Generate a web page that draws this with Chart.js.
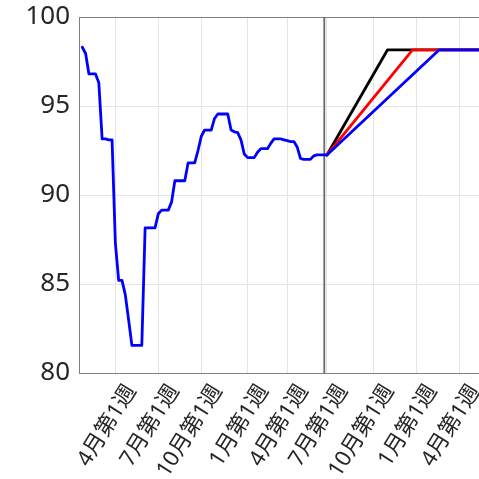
<!DOCTYPE html>
<html lang="ja">
<head>
    <meta charset="UTF-8">
    <title>週次推移と見通し</title>
    <style>
        body{
            margin: 0;
            background: #fff;
            overflow: hidden;
        }
        #wrap{
            width: 479px;
            height: 479px;
        }
    </style>
</head>
<body>
<div id="wrap"><canvas id="chart"></canvas></div>
<script src="https://cdn.jsdelivr.net/npm/chart.js"></script>
<script>
    // weekly history, week 0 = first "4月第1週"
    const firstWeek = -10;
    const historyValues = [
        98.3, 97.95, 96.8, 96.8, 96.8, 96.3, 93.15, 93.15, 93.1, 93.1,
        87.3, 85.2, 85.2, 84.4, 83.0, 81.55, 81.55, 81.55, 81.55, 88.15,
        88.15, 88.15, 88.15, 88.95, 89.15, 89.15, 89.15, 89.6, 90.8, 90.8,
        90.8, 90.8, 91.8, 91.8, 91.8, 92.5, 93.3, 93.65, 93.65, 93.65,
        94.3, 94.55, 94.55, 94.55, 94.55, 93.65, 93.55, 93.5, 93.1, 92.3,
        92.1, 92.1, 92.1, 92.4, 92.6, 92.6, 92.6, 92.9, 93.15, 93.15,
        93.15, 93.1, 93.05, 93.0, 93.0, 92.7, 92.05, 92.0, 92.0, 92.0,
        92.2, 92.25, 92.25, 92.25, 92.25
    ];

    // projections: start, reach plateau, stay flat
    const blackWeeks = [64, 82.3, 110];
    const blackValues = [92.25, 98.15, 98.15];
    const redWeeks = [64, 89.9, 110];
    const redValues = [92.25, 98.15, 98.15];
    const blueWeeks = [64, 97.9, 110];
    const blueValues = [92.25, 98.15, 98.15];

    const todayWeek = 63.2;

    const tickWeeks = [0, 13, 26, 40, 52, 64, 78, 91, 104];
    const tickLabels = ['4月第1週', '7月第1週', '10月第1週', '1月第1週', '4月第1週',
                        '7月第1週', '10月第1週', '1月第1週', '4月第1週'];

    const xMin = -11, xMax = 110;
    const yMin = 80, yMax = 100;

    function pts(xs, ys){
        return xs.map((x, i) => ({x: x, y: ys[i]}));
    }

    const lineStyle = {
        fill: false,
        tension: 0,
        pointRadius: 0,
        borderWidth: 2.8,
        borderJoinStyle: 'round',
        borderCapStyle: 'round'
    };

    const font = '"Noto Sans", "Noto Sans CJK JP", sans-serif';

    // keep the plot box where the picture has it
    function noPad(scale){
        scale.paddingTop = 0;
        scale.paddingBottom = 0;
        scale.paddingLeft = 0;
        scale.paddingRight = 0;
    }

    new Chart(document.getElementById('chart'), {
        type: 'line',
        data: {
            datasets: [
                {...lineStyle, data: historyValues.map((v, i) => ({x: firstWeek + i, y: v})), borderColor: '#0000ff'},
                {...lineStyle, data: pts(blueWeeks, blueValues), borderColor: '#0000ff'},
                {...lineStyle, data: pts(redWeeks, redValues), borderColor: '#ff0000'},
                {...lineStyle, data: pts(blackWeeks, blackValues), borderColor: '#000000'},
                {...lineStyle, data: pts([todayWeek, todayWeek], [yMin, yMax]), borderColor: '#6a6a6a', borderWidth: 1.8, borderCapStyle: 'butt'}
            ]
        },
        options: {
            animation: false,
            responsive: true,
            maintainAspectRatio: false,
            layout: {padding: {top: 17, right: 0, left: 0, bottom: 0}},
            plugins: {
                legend: {display: false},
                tooltip: {enabled: false}
            },
            scales: {
                x: {
                    type: 'linear',
                    position: 'bottom',
                    min: xMin,
                    max: xMax,
                    afterBuildTicks: (scale) => {
                        scale.ticks = tickWeeks.map(v => ({value: v}));
                    },
                    afterFit: (scale) => { scale.height = 106; noPad(scale); },
                    ticks: {
                        autoSkip: false,
                        minRotation: 58,
                        maxRotation: 58,
                        labelOffset: 16,
                        padding: 7,
                        color: '#262626',
                        font: {family: font, size: 22},
                        callback: (value) => tickLabels[tickWeeks.indexOf(value)]
                    },
                    grid: {color: '#e4e4e4', lineWidth: 1, tickLength: 0},
                    border: {color: '#808080', width: 1}
                },
                xTop: {
                    type: 'linear',
                    position: 'top',
                    min: xMin,
                    max: xMax,
                    afterFit: (scale) => { scale.height = 0; noPad(scale); },
                    ticks: {display: false},
                    grid: {display: false},
                    border: {color: '#808080', width: 1}
                },
                y: {
                    min: yMin,
                    max: yMax,
                    afterFit: (scale) => { scale.width = 79; noPad(scale); },
                    ticks: {
                        stepSize: 5,
                        padding: 9,
                        color: '#262626',
                        font: {family: font, size: 26}
                    },
                    grid: {color: '#e4e4e4', lineWidth: 1, tickLength: 0},
                    border: {color: '#808080', width: 1}
                }
            }
        }
    });
</script>
</body>
</html>
